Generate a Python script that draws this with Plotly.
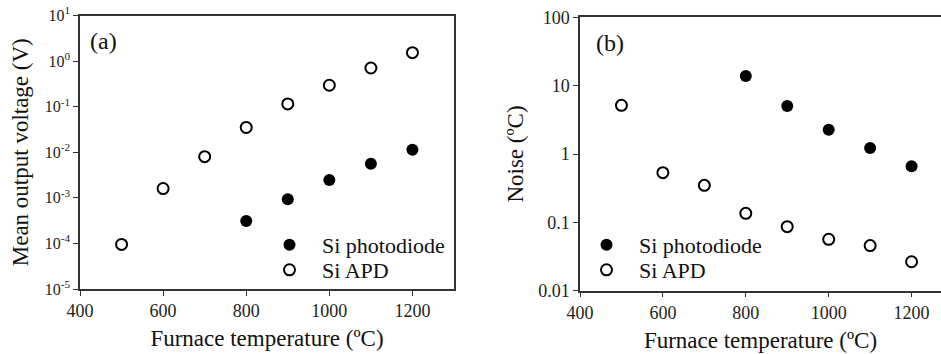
import plotly.graph_objects as go

temps_pd = [800, 900, 1000, 1100, 1200]
temps_apd = [500, 600, 700, 800, 900, 1000, 1100, 1200]

volt_pd = [3.1e-4, 9.3e-4, 2.45e-3, 5.6e-3, 1.14e-2]
volt_apd = [9.5e-5, 1.6e-3, 8.0e-3, 0.035, 0.115, 0.295, 0.706, 1.53]

noise_pd = [13.8, 5.04, 2.27, 1.22, 0.66]
noise_apd = [5.15, 0.533, 0.348, 0.1355, 0.0865, 0.0565, 0.0457, 0.0265]

xticks = [400, 600, 800, 1000, 1200]
a_yticks = [1e-5, 1e-4, 1e-3, 1e-2, 1e-1, 1e0, 1e1]
a_yticktext = ["10<sup>-5</sup>", "10<sup>-4</sup>", "10<sup>-3</sup>", "10<sup>-2</sup>",
               "10<sup>-1</sup>", "10<sup>0</sup>", "10<sup>1</sup>"]
b_yticks = [0.01, 0.1, 1, 10, 100]
b_yticktext = ["0.01", "0.1", "1", "10", "100"]

FONT = "Liberation Serif"
fig = go.Figure()

filled = dict(symbol="circle", size=12, color="black")
opened = dict(symbol="circle-open", size=11, color="black", line=dict(width=2, color="black"))

fig.add_trace(go.Scatter(x=temps_pd, y=volt_pd, mode="markers", marker=filled,
                         name="Si photodiode", xaxis="x", yaxis="y", legend="legend"))
fig.add_trace(go.Scatter(x=temps_apd, y=volt_apd, mode="markers", marker=opened,
                         name="Si APD", xaxis="x", yaxis="y", legend="legend3"))
fig.add_trace(go.Scatter(x=temps_pd, y=noise_pd, mode="markers", marker=filled,
                         name="Si photodiode", xaxis="x2", yaxis="y2", legend="legend2"))
fig.add_trace(go.Scatter(x=temps_apd, y=noise_apd, mode="markers", marker=opened,
                         name="Si APD", xaxis="x2", yaxis="y2", legend="legend4"))

axis_common = dict(showline=True, linecolor="#333333", linewidth=1.5, ticks="outside",
                   ticklen=5, tickcolor="#333333", showgrid=False, zeroline=False,
                   automargin=False,
                   tickfont=dict(family=FONT, size=18, color="#222222"))

TITLE_FONT = dict(family=FONT, size=23, color="#111111")


def leg(x, y):
    return dict(x=x/941, y=1-y/354, xanchor="left", yanchor="top", bgcolor="rgba(0,0,0,0)",
                font=dict(family=FONT, size=22, color="#111111"), itemwidth=55, tracegroupgap=0)


fig.update_layout(
    template="none",
    width=941, height=354,
    margin=dict(l=0, r=0, t=0, b=0),
    paper_bgcolor="white", plot_bgcolor="white",
    font=dict(family=FONT, color="black"),
    showlegend=True,
    xaxis=dict(domain=[80/941, 454/941], range=[400, 1300], tickvals=xticks, mirror=True,
               anchor="y",
               title=dict(text="Furnace temperature (ºC)", font=TITLE_FONT, standoff=10),
               **axis_common),
    yaxis=dict(domain=[1-289/354, 1-15.5/354], type="log", range=[-5, 1], tickvals=a_yticks,
               ticktext=a_yticktext, mirror=True, anchor="x",
               title=dict(text="Mean output voltage (V)", font=TITLE_FONT, standoff=10),
               **{**axis_common, "tickfont": dict(family=FONT, size=16, color="#222222")}),
    xaxis2=dict(domain=[580/941, 1.0], range=[400, 1271], tickvals=xticks, mirror=True,
                anchor="y2",
                title=dict(text="Furnace temperature (ºC)", font=TITLE_FONT, standoff=10),
                **axis_common),
    yaxis2=dict(domain=[1-290.7/354, 1-17.3/354], type="log", range=[-2, 2], tickvals=b_yticks,
                ticktext=b_yticktext, mirror=False, anchor="x2",
                title=dict(text="Noise (ºC)", font=TITLE_FONT, standoff=8),
                **axis_common),
    legend=leg(257, 224),
    legend3=leg(257, 249),
    legend2=leg(574, 224),
    legend4=leg(574, 249),
    annotations=[
        dict(text="(a)", x=0.022, y=0.96, xref="x domain", yref="y domain", showarrow=False,
             xanchor="left", yanchor="top", font=dict(family=FONT, size=24, color="#111111")),
        dict(text="(b)", x=0.04, y=0.96, xref="x2 domain", yref="y2 domain", showarrow=False,
             xanchor="left", yanchor="top", font=dict(family=FONT, size=24, color="#111111")),
    ],
)

fig.write_html("out.html")
